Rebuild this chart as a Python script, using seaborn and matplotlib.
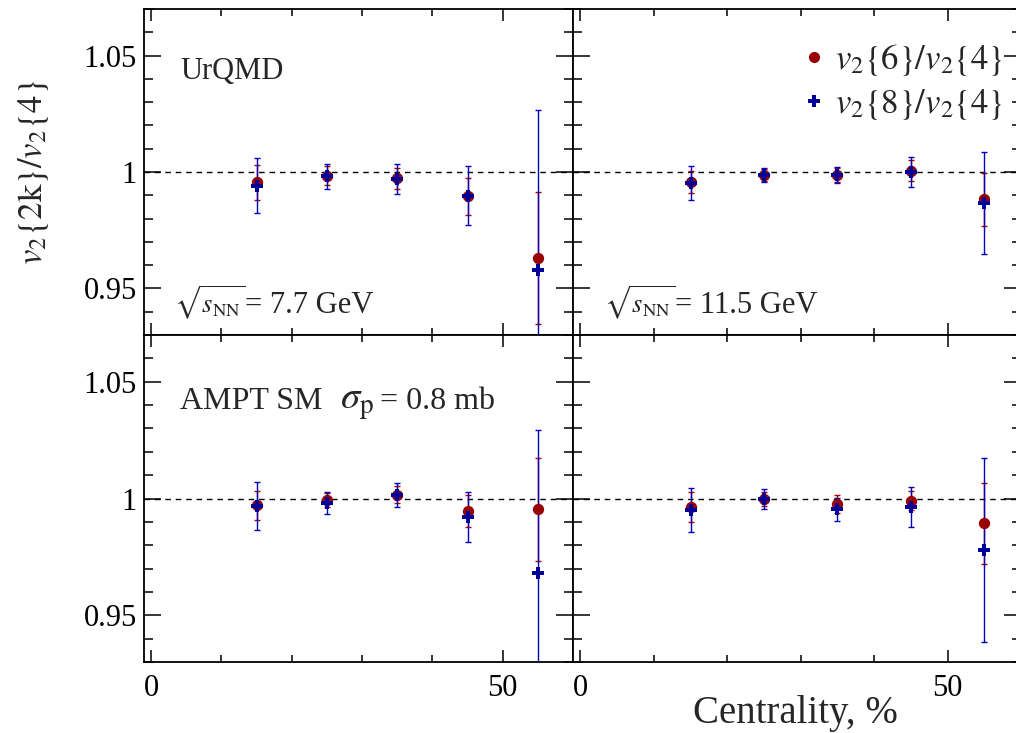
import numpy as np
import pandas as pd
import matplotlib
matplotlib.use("Agg")
import matplotlib.pyplot as plt
from matplotlib.lines import Line2D
from matplotlib.ticker import FixedLocator, MultipleLocator, FuncFormatter
import seaborn as sns

# Centrality bin centres (%)
centrality = [15, 25, 35, 45, 55]

# UrQMD, sqrt(s_NN) = 7.7 GeV
urqmd77_v6 = [0.9956, 0.9984, 0.9974, 0.9895, 0.9632]
urqmd77_v6_err = [0.0076, 0.0040, 0.0045, 0.0080, 0.0283]
urqmd77_v8 = [0.9941, 0.9981, 0.9971, 0.9899, 0.9581]
urqmd77_v8_err = [0.0117, 0.0054, 0.0064, 0.0128, 0.0685]

# UrQMD, sqrt(s_NN) = 11.5 GeV
urqmd115_v6 = [0.9956, 0.9986, 0.9986, 1.0006, 0.9882]
urqmd115_v6_err = [0.0048, 0.0025, 0.0030, 0.0046, 0.0114]
urqmd115_v8 = [0.9953, 0.9986, 0.9986, 1.0000, 0.9868]
urqmd115_v8_err = [0.0073, 0.0031, 0.0034, 0.0063, 0.0219]

# AMPT string melting, sigma_p = 0.8 mb, 7.7 GeV
ampt77_v6 = [0.9971, 0.9993, 1.0017, 0.9948, 0.9953]
ampt77_v6_err = [0.0061, 0.0030, 0.0036, 0.0068, 0.0221]
ampt77_v8 = [0.9967, 0.9981, 1.0014, 0.9921, 0.9683]
ampt77_v8_err = [0.0103, 0.0047, 0.0052, 0.0107, 0.0610]

# AMPT string melting, sigma_p = 0.8 mb, 11.5 GeV
ampt115_v6 = [0.9964, 0.9999, 0.9977, 0.9991, 0.9893]
ampt115_v6_err = [0.0063, 0.0030, 0.0038, 0.0040, 0.0172]
ampt115_v8 = [0.9950, 0.9996, 0.9953, 0.9963, 0.9781]
ampt115_v8_err = [0.0094, 0.0043, 0.0048, 0.0087, 0.0394]

x_ticks = [0, 50]
y_ticks = [0.95, 1.0, 1.05]

panels = {
    "urqmd77": (urqmd77_v6, urqmd77_v6_err, urqmd77_v8, urqmd77_v8_err),
    "urqmd115": (urqmd115_v6, urqmd115_v6_err, urqmd115_v8, urqmd115_v8_err),
    "ampt77": (ampt77_v6, ampt77_v6_err, ampt77_v8, ampt77_v8_err),
    "ampt115": (ampt115_v6, ampt115_v6_err, ampt115_v8, ampt115_v8_err),
}

rows = []
for name, (v6, e6, v8, e8) in panels.items():
    for c, a, ea, b, eb in zip(centrality, v6, e6, v8, e8):
        rows.append(dict(panel=name, centrality=c, ratio="v6", value=a, err=ea))
        rows.append(dict(panel=name, centrality=c, ratio="v8", value=b, err=eb))
df = pd.DataFrame(rows)

sns.set_theme(style="ticks")
plt.rcParams["font.family"] = ["Liberation Serif", "DejaVu Serif"]
plt.rcParams["mathtext.fontset"] = "stix"
plt.rcParams["axes.edgecolor"] = "black"
plt.rcParams["xtick.color"] = "black"
plt.rcParams["ytick.color"] = "black"
plt.rcParams["axes.linewidth"] = 1.3

RED = "#990000"
RED_ERR = "#b00000"
BLUE = "#000099"
BLUE_ERR = "#0000b8"

W, H = 1016, 733
fig = plt.figure(figsize=(W / 100, H / 100), dpi=100)


def px_axes(x0, x1, y0, y1):
    return fig.add_axes([x0 / W, 1 - y1 / H, (x1 - x0) / W, (y1 - y0) / H])


axes = {
    "urqmd77": px_axes(144, 573, 9, 335),
    "urqmd115": px_axes(573, 1021, 9, 335),
    "ampt77": px_axes(144, 573, 335, 662),
    "ampt115": px_axes(573, 1021, 335, 662),
}

for name, ax in axes.items():
    sub = df[df.panel == name]
    ax.axhline(1.0, color="black", lw=1.0, dashes=(4, 3.5), zorder=1)
    for ratio, col in (("v6", RED_ERR), ("v8", BLUE_ERR)):
        s = sub[sub.ratio == ratio]
        ax.errorbar(s.centrality, s.value, yerr=s.err, fmt="none",
                    ecolor=col, elinewidth=1.0, capsize=2.2, capthick=1.0,
                    zorder=2)
    sns.scatterplot(data=sub[sub.ratio == "v6"], x="centrality", y="value",
                    color=RED, marker="o", s=66, linewidth=0, legend=False,
                    ax=ax, zorder=3)
    sns.scatterplot(data=sub[sub.ratio == "v8"], x="centrality", y="value",
                    color=BLUE, marker="P", s=70, linewidth=0, legend=False,
                    ax=ax, zorder=4)

    ax.set_xlim(-1, 60)
    ax.set_ylim(0.93, 1.07)
    ax.set_xlabel("")
    ax.set_ylabel("")
    ax.xaxis.set_major_locator(FixedLocator(x_ticks))
    ax.xaxis.set_minor_locator(MultipleLocator(10))
    ax.yaxis.set_major_locator(FixedLocator(y_ticks))
    ax.yaxis.set_minor_locator(MultipleLocator(0.01))
    ax.yaxis.set_major_formatter(FuncFormatter(lambda v, p: f"{v:g}"))
    ax.xaxis.set_major_formatter(FuncFormatter(lambda v, p: f"{v:g}"))
    ax.tick_params(which="both", direction="in", top=True, right=True,
                   labelsize=22, width=1.1)
    ax.tick_params(axis="x", which="major", length=8.5, pad=9)
    ax.tick_params(axis="x", which="minor", length=5)
    ax.tick_params(axis="y", which="major", length=12, pad=5)
    ax.tick_params(axis="y", which="minor", length=6.5)
    for sp in ax.spines.values():
        sp.set_linewidth(1.3)
    ax.set_facecolor("white")

axes["urqmd115"].tick_params(labelleft=False)
axes["ampt115"].tick_params(labelleft=False)
axes["urqmd77"].tick_params(labelbottom=False)
axes["urqmd115"].tick_params(labelbottom=False)


def put(ax, x, y, s, size):
    ax.text(x, y, s, transform=ax.transAxes, fontsize=size,
            va="baseline", ha="left")


a1, a2, a3 = axes["urqmd77"], axes["urqmd115"], axes["ampt77"]
put(a1, 0.084, 0.785, "UrQMD", 22)
put(a1, 0.071, 0.067, r"$\sqrt{s_{\mathrm{NN}}}$", 19)
put(a1, 0.2354, 0.067, "= 7.7 GeV", 22)
put(a2, 0.070, 0.067, r"$\sqrt{s_{\mathrm{NN}}}$", 19)
put(a2, 0.2277, 0.067, "= 11.5 GeV", 22)
put(a3, 0.084, 0.774, "AMPT SM", 23)
put(a3, 0.457, 0.774, r"$\sigma_{\mathrm{p}}$", 28)
put(a3, 0.550, 0.774, "= 0.8 mb", 23)

handles = [
    Line2D([], [], ls="none", marker="o", color=RED, markersize=8, markeredgewidth=0),
    Line2D([], [], ls="none", marker="P", color=BLUE, markersize=8, markeredgewidth=0),
]
labels = [r"$v_{2}\{6\}/v_{2}\{4\}$", r"$v_{2}\{8\}/v_{2}\{4\}$"]
a2.legend(handles, labels, loc="upper right",
          bbox_to_anchor=((1003 - 573) / 448, (335 - 42) / 326),
          frameon=False, fontsize=25, handlelength=0.6,
          handletextpad=0.3, labelspacing=0.25,
          borderaxespad=0, borderpad=0)

fig.text(34 / W, 1 - 172 / H, r"$v_{2}\{2\mathrm{k}\}/v_{2}\{4\}$",
         rotation=90, ha="center", va="center", fontsize=25)
fig.text(898 / W, 1 - 723 / H, "Centrality, %", ha="right", va="baseline",
         fontsize=28)

fig.savefig("out.png", dpi=100, facecolor="white")
